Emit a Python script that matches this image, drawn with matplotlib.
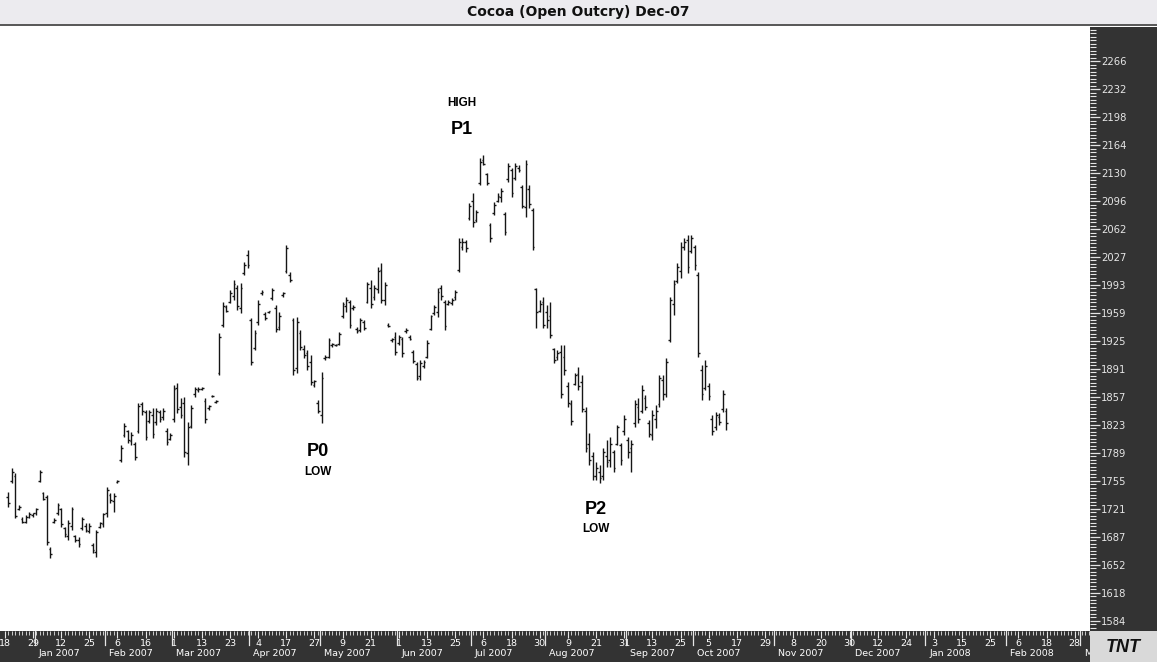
import matplotlib.pyplot as plt
import numpy as np
import pandas as pd
import matplotlib.transforms as mtransforms
from matplotlib.patches import Rectangle
from matplotlib.ticker import FixedLocator

W, H = 1157, 662

title = 'Cocoa (Open Outcry) Dec-07'

# exchange holidays skipped by the chart's trading-day axis
holidays = ['2006-12-25', '2007-01-01', '2007-01-02', '2007-01-15', '2007-02-19',
            '2007-04-06', '2007-05-28', '2007-07-04', '2007-09-03']

# daily OHLC, 19 Dec 2006 .. 12 Oct 2007
highs = [1741, 1770, 1764, 1725, 1711, 1713, 1717, 1716, 1722, 1768,
         1741, 1737, 1674, 1709, 1728, 1722, 1699, 1707, 1723, 1689,
         1686, 1711, 1703, 1703, 1679, 1695, 1705, 1716, 1747, 1740,
         1740, 1756, 1798, 1825, 1817, 1814, 1802, 1850, 1851, 1841,
         1841, 1843, 1843, 1841, 1843, 1819, 1813, 1871, 1874, 1856,
         1857, 1826, 1847, 1869, 1869, 1869, 1856, 1847, 1859, 1853,
         1935, 1973, 1969, 1987, 1999, 1993, 1996, 2021, 2036, 1953,
         1938, 1975, 1987, 1960, 1962, 1990, 1969, 1960, 1985, 2042,
         2009, 1953, 1954, 1938, 1920, 1914, 1908, 1878, 1853, 1887,
         1908, 1929, 1923, 1921, 1936, 1973, 1979, 1975, 1969, 1942,
         1953, 1951, 1997, 1999, 1993, 2015, 2020, 1997, 1947, 1929,
         1936, 1932, 1930, 1941, 1932, 1914, 1899, 1902, 1902, 1926,
         1957, 1969, 1990, 1993, 1975, 1975, 1977, 1987, 2050, 2050,
         2048, 2093, 2105, 2085, 2148, 2152, 2130, 2069, 2094, 2105,
         2111, 2082, 2142, 2136, 2142, 2139, 2115, 2145, 2115, 2087,
         1990, 1975, 1979, 1969, 1973, 1917, 1914, 1920, 1920, 1875,
         1853, 1886, 1893, 1884, 1845, 1813, 1790, 1778, 1774, 1795,
         1804, 1808, 1792, 1823, 1801, 1835, 1808, 1804, 1853, 1856,
         1871, 1859, 1829, 1841, 1847, 1884, 1884, 1904, 1979, 1999,
         2020, 2046, 2050, 2054, 2054, 2042, 2009, 1896, 1902, 1874,
         1835, 1839, 1837, 1865, 1843]
lows = [1723, 1752, 1709, 1719, 1703, 1703, 1709, 1711, 1713, 1753,
        1731, 1677, 1661, 1703, 1713, 1699, 1686, 1683, 1695, 1680,
        1674, 1695, 1692, 1691, 1667, 1662, 1697, 1699, 1711, 1728,
        1717, 1752, 1778, 1808, 1801, 1798, 1780, 1813, 1835, 1804,
        1825, 1807, 1823, 1826, 1829, 1798, 1804, 1826, 1837, 1831,
        1784, 1774, 1819, 1857, 1863, 1865, 1825, 1841, 1857, 1850,
        1884, 1942, 1960, 1971, 1975, 1963, 1959, 2005, 2014, 1896,
        1914, 1945, 1981, 1951, 1959, 1975, 1936, 1938, 1979, 2008,
        1997, 1884, 1886, 1914, 1904, 1890, 1871, 1869, 1837, 1825,
        1902, 1904, 1918, 1919, 1920, 1953, 1960, 1941, 1963, 1935,
        1936, 1938, 1971, 1965, 1975, 1984, 1971, 1969, 1942, 1924,
        1908, 1920, 1906, 1935, 1926, 1898, 1878, 1878, 1892, 1904,
        1938, 1957, 1954, 1975, 1938, 1969, 1969, 1975, 2009, 2036,
        2033, 2072, 2064, 2070, 2115, 2139, 2115, 2046, 2079, 2094,
        2094, 2054, 2119, 2100, 2121, 2131, 2087, 2076, 2087, 2036,
        1941, 1960, 1941, 1941, 1929, 1898, 1902, 1856, 1884, 1845,
        1823, 1871, 1865, 1839, 1790, 1774, 1756, 1756, 1752, 1756,
        1772, 1772, 1766, 1798, 1774, 1811, 1783, 1766, 1820, 1825,
        1837, 1841, 1808, 1804, 1819, 1845, 1853, 1857, 1924, 1957,
        1996, 2002, 2036, 2008, 2032, 2012, 1906, 1853, 1865, 1853,
        1811, 1817, 1823, 1839, 1817]
opens = [1735, 1755, 1760, 1720, 1708, 1705, 1711, 1713, 1715, 1755,
         1740, 1735, 1672, 1704, 1715, 1720, 1697, 1688, 1700, 1687,
         1683, 1697, 1700, 1694, 1677, 1668, 1699, 1702, 1715, 1738,
         1730, 1753, 1780, 1810, 1815, 1803, 1800, 1815, 1848, 1838,
         1828, 1835, 1826, 1838, 1832, 1815, 1806, 1830, 1868, 1845,
         1850, 1788, 1822, 1860, 1865, 1866, 1852, 1843, 1858, 1851,
         1886, 1945, 1966, 1973, 1980, 1990, 1965, 2008, 2030, 1950,
         1917, 1948, 1983, 1958, 1960, 1977, 1965, 1942, 1981, 2010,
         2005, 1950, 1892, 1935, 1915, 1910, 1900, 1872, 1850, 1835,
         1904, 1906, 1920, 1920, 1921, 1955, 1968, 1972, 1965, 1940,
         1938, 1948, 1973, 1990, 1978, 1988, 2012, 1975, 1945, 1926,
         1930, 1922, 1928, 1937, 1930, 1912, 1897, 1882, 1895, 1906,
         1940, 1959, 1960, 1990, 1972, 1970, 1971, 1978, 2012, 2040,
         2045, 2075, 2095, 2072, 2118, 2145, 2128, 2066, 2081, 2096,
         2100, 2080, 2122, 2133, 2124, 2136, 2112, 2088, 2110, 2085,
         1988, 1962, 1972, 1960, 1955, 1915, 1905, 1912, 1905, 1870,
         1848, 1873, 1885, 1875, 1840, 1800, 1785, 1760, 1765, 1760,
         1785, 1780, 1790, 1800, 1798, 1815, 1805, 1795, 1825, 1845,
         1840, 1855, 1825, 1810, 1830, 1848, 1878, 1860, 1926, 1970,
         1998, 2010, 2040, 2048, 2035, 2040, 2005, 1890, 1868, 1870,
         1830, 1820, 1833, 1842, 1840]
closes = [1728, 1765, 1712, 1723, 1705, 1711, 1714, 1715, 1720, 1765,
          1733, 1680, 1665, 1707, 1725, 1702, 1690, 1703, 1720, 1683,
          1678, 1708, 1695, 1700, 1670, 1692, 1703, 1714, 1744, 1731,
          1736, 1755, 1795, 1822, 1805, 1810, 1784, 1846, 1840, 1808,
          1838, 1812, 1840, 1830, 1840, 1802, 1810, 1866, 1842, 1835,
          1790, 1820, 1843, 1866, 1867, 1868, 1830, 1846, 1858, 1852,
          1930, 1968, 1962, 1984, 1994, 1968, 1990, 2018, 2017, 1900,
          1935, 1970, 1985, 1953, 1961, 1987, 1940, 1955, 1983, 2038,
          1999, 1890, 1948, 1918, 1908, 1895, 1875, 1876, 1840, 1880,
          1906, 1926, 1921, 1920, 1934, 1970, 1975, 1945, 1967, 1937,
          1950, 1941, 1994, 1970, 1990, 2010, 1975, 1993, 1943, 1927,
          1912, 1930, 1910, 1939, 1928, 1901, 1880, 1898, 1900, 1922,
          1955, 1966, 1985, 1980, 1943, 1973, 1975, 1985, 2045, 2046,
          2038, 2090, 2070, 2082, 2143, 2141, 2118, 2050, 2091, 2102,
          2108, 2058, 2138, 2105, 2138, 2133, 2090, 2140, 2092, 2040,
          1960, 1970, 1945, 1950, 1932, 1902, 1910, 1860, 1890, 1850,
          1828, 1884, 1870, 1842, 1795, 1780, 1760, 1770, 1758, 1790,
          1778, 1800, 1770, 1820, 1780, 1830, 1790, 1800, 1848, 1830,
          1865, 1845, 1812, 1835, 1840, 1880, 1860, 1900, 1975, 1995,
          2015, 2040, 2045, 2015, 2050, 2018, 1910, 1860, 1895, 1858,
          1815, 1835, 1826, 1860, 1825]

# right price scale
price_labels = ['1584', '1618', '1652', '1687', '1721', '1755', '1789', '1823',
                '1857', '1891', '1925', '1959', '1993', '2027', '2062', '2096',
                '2130', '2164', '2198', '2232', '2266']
price_step = 34.1

# chart annotations: text, bar number, price, size
notes = [('HIGH', 130, 2215, 8.5), ('P1', 130, 2182, 13),
         ('P0', 89, 1790, 13), ('LOW', 89, 1765, 8.5),
         ('P2', 168, 1720, 13), ('LOW', 168, 1696, 8.5)]

# ---------------------------------------------------------------- layout
past = pd.bdate_range('2006-12-18', '2007-10-12', freq='C', holidays=holidays)
future = pd.bdate_range('2007-10-15', '2008-03-14')
days = past.append(future)
bar_dates = past[1:]
x = np.asarray(days.get_indexer(bar_dates), dtype=float)

px_per_day = 3.52
x0_px = 4.7
plot_top, plot_bot, plot_right = 27, 631, 1090
sans = ['Liberation Sans', 'DejaVu Sans']


def py(y_px):
    return 2340.3 - 1.2179 * y_px


fig = plt.figure(figsize=(W / 100, H / 100), dpi=100)
fig.patch.set_facecolor('white')


def band(x0, y0, x1, y1, color, z=-2):
    fig.add_artist(Rectangle((x0 / W, 1 - y1 / H), (x1 - x0) / W, (y1 - y0) / H,
                             transform=fig.transFigure, facecolor=color,
                             edgecolor='none', zorder=z))


band(0, 0, W, 24, '#ecebef')
band(0, 24, W, 26, '#5a5a5a')
band(plot_right, plot_top, W, plot_bot, '#333333')
band(0, plot_bot, plot_right, H, '#333333')
band(plot_right, plot_bot, W, H, '#d9d9d9', z=5)

fig.text(0.5, 1 - 12 / H, title, ha='center', va='center', fontsize=10,
         family=['Liberation Sans Narrow', 'DejaVu Sans'], weight='bold', color='#111111')
fig.text((plot_right + W) / 2 / W, 1 - 647 / H, 'TNT', ha='center', va='center',
         fontsize=13, weight='bold', style='italic', color='#111111', family=sans,
         zorder=6)

ax = fig.add_axes([0, (H - plot_bot) / H, plot_right / W, (plot_bot - plot_top) / H])
ax.set_facecolor('white')
for s in ax.spines.values():
    s.set_visible(False)

ax.set_xlim((0 - x0_px) / px_per_day, (plot_right - x0_px) / px_per_day)
ax.set_ylim(py(plot_bot), py(plot_top))

bar_col = '#151515'
ax.vlines(x, lows, highs, color=bar_col, lw=1.0)
ax.hlines(opens, x - 0.5, x, color=bar_col, lw=1.0)
ax.hlines(closes, x, x + 0.5, color=bar_col, lw=1.0)

for txt, i, price, size in notes:
    ax.text(i, price, txt, ha='center', va='center', fontsize=size,
            weight='bold', color='black', family=sans)

# price axis on the right
major = [1584 + price_step * k for k in range(len(price_labels))]
minor = [1584 + price_step / 8 * k for k in range(-3, 8 * len(price_labels) + 12)]
ax.yaxis.tick_right()
ax.yaxis.set_major_locator(FixedLocator(major))
ax.yaxis.set_minor_locator(FixedLocator(minor))
ax.set_yticklabels(price_labels)
ax.tick_params(axis='y', which='major', length=7, width=0.9, color='#e6e6e6',
               labelcolor='#e6e6e6', labelsize=7.2, pad=1)
ax.tick_params(axis='y', which='minor', length=4, width=0.8, color='#e6e6e6')

# trading-day axis at the bottom
label_slots = np.arange(0, len(days), 8)
ax.xaxis.set_major_locator(FixedLocator(label_slots))
ax.xaxis.set_minor_locator(FixedLocator(np.arange(len(days))))
ax.set_xticklabels([str(days[i].day) for i in label_slots])
ax.tick_params(axis='x', which='major', length=5, width=0.8, color='#e6e6e6',
               labelcolor='white', labelsize=6.8, pad=1)
ax.tick_params(axis='x', which='minor', length=3, width=0.6, color='#e6e6e6')

trans = mtransforms.blended_transform_factory(ax.transData, ax.transAxes)
h_ax = plot_bot - plot_top
x_end = (plot_right - x0_px) / px_per_day
for i in range(1, len(days)):
    if days[i].month != days[i - 1].month and i - 0.5 < x_end:
        ax.plot([i - 0.5, i - 0.5], [0, -14 / h_ax], transform=trans, color='#e6e6e6',
                lw=0.9, clip_on=False)
        label = days[i].strftime('%b %Y')
        if x_end - i < 12:
            # the last month name is cut off by the logo box: only its first letter shows
            label = label[0]
        ax.text(i + 0.6, -22 / h_ax, label, transform=trans,
                ha='left', va='center', fontsize=6.8, color='white')

fig.savefig('out.png', dpi=100)
